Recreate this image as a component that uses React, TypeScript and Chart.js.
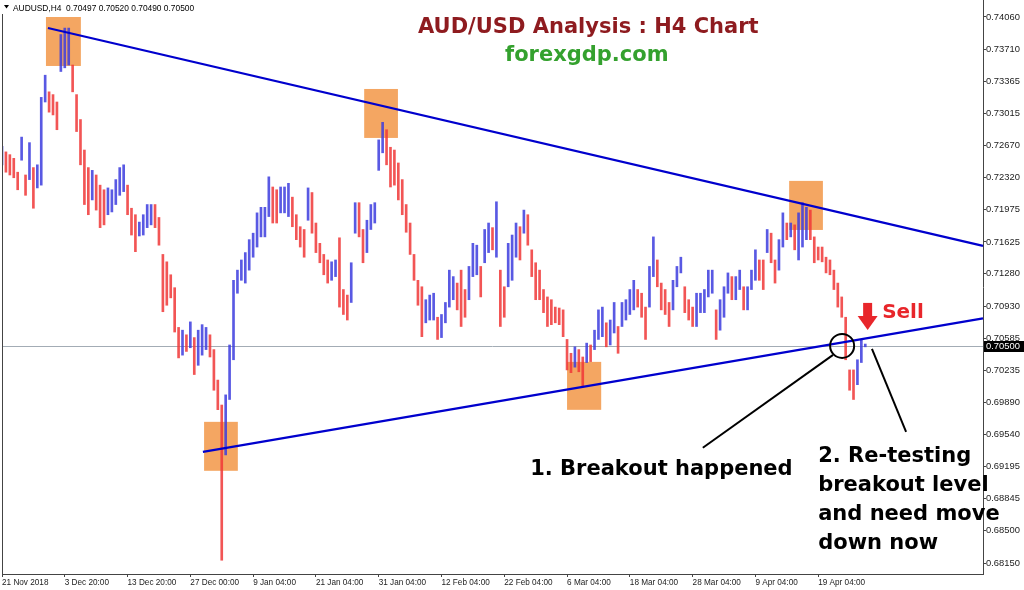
import React, { useEffect, useRef } from 'react';
import { Chart, registerables } from 'chart.js';

Chart.register(...registerables);

// ---------- data ----------
const tickLabels = [
  '21 Nov 2018', '3 Dec 20:00', '13 Dec 20:00', '27 Dec 00:00', '9 Jan 04:00',
  '21 Jan 04:00', '31 Jan 04:00', '12 Feb 04:00', '22 Feb 04:00', '6 Mar 04:00',
  '18 Mar 04:00', '28 Mar 04:00', '9 Apr 04:00', '19 Apr 04:00',
];

const yTicks = [
  0.74060, 0.73710, 0.73365, 0.73015, 0.72670, 0.72320, 0.71975, 0.71625, 0.71280,
  0.70930, 0.70585, 0.70235, 0.69890, 0.69540, 0.69195, 0.68845, 0.68500, 0.68150,
];

const highs = [
  0.7266, 0.7260, 0.7257, 0.7253, 0.7238, 0.7276, 0.7235, 0.7270, 0.7243, 0.7246,
  0.7319, 0.7343, 0.7325, 0.7322, 0.7314, 0.7387, 0.7394, 0.7394, 0.7354, 0.7322,
  0.7295, 0.7262, 0.7243, 0.7240, 0.7235, 0.7224, 0.7219, 0.7221, 0.7219, 0.7230,
  0.7243, 0.7246, 0.7224, 0.7199, 0.7192, 0.7184, 0.7192, 0.7203, 0.7203, 0.7203,
  0.7189, 0.7149, 0.7141, 0.7127, 0.7113, 0.7070, 0.7067, 0.7062, 0.7076, 0.7059,
  0.7067, 0.7073, 0.7070, 0.7062, 0.7046, 0.7013, 0.6986, 0.6997, 0.7051, 0.7121,
  0.7132, 0.7143, 0.7151, 0.7165, 0.7172, 0.7194, 0.7200, 0.7200, 0.7233, 0.7222,
  0.7219, 0.7222, 0.7222, 0.7226, 0.7211, 0.7192, 0.7179, 0.7176, 0.7221, 0.7216,
  0.7183, 0.7161, 0.7149, 0.7143, 0.7141, 0.7143, 0.7167, 0.7111, 0.7105, 0.7140,
  0.7205, 0.7205, 0.7176, 0.7186, 0.7203, 0.7205, 0.7273, 0.7292, 0.7284, 0.7265,
  0.7262, 0.7248, 0.7230, 0.7203, 0.7183, 0.7149, 0.7121, 0.7114, 0.7100, 0.7105,
  0.7107, 0.7081, 0.7084, 0.7097, 0.7132, 0.7125, 0.7118, 0.7132, 0.7111, 0.7136,
  0.7161, 0.7159, 0.7136, 0.7176, 0.7183, 0.7178, 0.7206, 0.7132, 0.7114, 0.7161,
  0.7170, 0.7183, 0.7179, 0.7197, 0.7192, 0.7154, 0.7140, 0.7132, 0.7111, 0.7103,
  0.7100, 0.7092, 0.7091, 0.7089, 0.7057, 0.7042, 0.7049, 0.7046, 0.7038, 0.7053,
  0.7051, 0.7067, 0.7089, 0.7092, 0.7075, 0.7078, 0.7097, 0.7071, 0.7097, 0.7100,
  0.7111, 0.7121, 0.7111, 0.7107, 0.7092, 0.7136, 0.7168, 0.7143, 0.7118, 0.7111,
  0.7097, 0.7121, 0.7136, 0.7146, 0.7114, 0.7100, 0.7092, 0.7107, 0.7107, 0.7111,
  0.7132, 0.7132, 0.7089, 0.7100, 0.7114, 0.7129, 0.7125, 0.7125, 0.7132, 0.7114,
  0.7114, 0.7132, 0.7154, 0.7143, 0.7143, 0.7176, 0.7172, 0.7143, 0.7165, 0.7194,
  0.7183, 0.7183, 0.7181, 0.7194, 0.7205, 0.7200, 0.7197, 0.7168, 0.7157, 0.7157,
  0.7146, 0.7143, 0.7132, 0.7118, 0.7103, 0.7081, 0.7024, 0.7024, 0.7035, 0.7057,
  0.7052,
];

const lows = [
  0.7246, 0.7238, 0.7235, 0.7232, 0.7219, 0.7251, 0.7213, 0.7230, 0.7199, 0.7221,
  0.7224, 0.7314, 0.7303, 0.7300, 0.7284, 0.7347, 0.7351, 0.7354, 0.7325, 0.7282,
  0.7246, 0.7203, 0.7192, 0.7208, 0.7197, 0.7178, 0.7181, 0.7192, 0.7195, 0.7203,
  0.7213, 0.7217, 0.7192, 0.7170, 0.7152, 0.7169, 0.7170, 0.7178, 0.7181, 0.7178,
  0.7159, 0.7087, 0.7094, 0.7102, 0.7065, 0.7037, 0.7040, 0.7044, 0.7048, 0.7019,
  0.7029, 0.7040, 0.7046, 0.7038, 0.7002, 0.6981, 0.6818, 0.6932, 0.6992, 0.7035,
  0.7107, 0.7121, 0.7118, 0.7132, 0.7146, 0.7157, 0.7168, 0.7168, 0.7190, 0.7183,
  0.7183, 0.7194, 0.7194, 0.7190, 0.7179, 0.7165, 0.7157, 0.7146, 0.7186, 0.7172,
  0.7151, 0.7140, 0.7127, 0.7118, 0.7121, 0.7125, 0.7092, 0.7084, 0.7078, 0.7097,
  0.7172, 0.7168, 0.7140, 0.7151, 0.7176, 0.7183, 0.7240, 0.7259, 0.7246, 0.7222,
  0.7224, 0.7208, 0.7192, 0.7173, 0.7149, 0.7121, 0.7094, 0.7060, 0.7075, 0.7078,
  0.7078, 0.7057, 0.7059, 0.7075, 0.7092, 0.7100, 0.7089, 0.7071, 0.7081, 0.7100,
  0.7125, 0.7127, 0.7103, 0.7140, 0.7151, 0.7154, 0.7146, 0.7071, 0.7081, 0.7114,
  0.7121, 0.7146, 0.7143, 0.7172, 0.7159, 0.7125, 0.7100, 0.7100, 0.7086, 0.7071,
  0.7073, 0.7075, 0.7073, 0.7060, 0.7024, 0.7021, 0.7027, 0.7022, 0.7006, 0.7032,
  0.7033, 0.7046, 0.7057, 0.7060, 0.7049, 0.7051, 0.7064, 0.7042, 0.7071, 0.7078,
  0.7084, 0.7089, 0.7092, 0.7081, 0.7057, 0.7092, 0.7125, 0.7114, 0.7089, 0.7084,
  0.7071, 0.7089, 0.7114, 0.7129, 0.7086, 0.7078, 0.7071, 0.7071, 0.7086, 0.7086,
  0.7103, 0.7107, 0.7057, 0.7067, 0.7081, 0.7107, 0.7100, 0.7100, 0.7111, 0.7089,
  0.7089, 0.7111, 0.7121, 0.7121, 0.7111, 0.7151, 0.7140, 0.7118, 0.7132, 0.7157,
  0.7165, 0.7168, 0.7154, 0.7143, 0.7157, 0.7165, 0.7165, 0.7140, 0.7143, 0.7141,
  0.7129, 0.7127, 0.7111, 0.7092, 0.7081, 0.7035, 0.7002, 0.6992, 0.7008, 0.7032,
  0.7049,
];

const headerText = 'AUDUSD,H4  0.70497 0.70520 0.70490 0.70500';
const lastPrice = 0.705;
const titleText = 'AUD/USD Analysis : H4 Chart';
const siteText = 'forexgdp.com';
const breakoutText = '1. Breakout happened';
const retestLines = ['2. Re-testing', 'breakout level', 'and need move', 'down now'];
const sellText = 'Sell';

// axis extents and slot count
const SLOTS = 251;
const TICK_EVERY = 16;
const Y_MIN = 0.68031;
const Y_MAX = 0.74244;

// annotations (in data coordinates: x = bar slot index, y = price)
const trendLines = [
  { x1: 11.7, y1: 0.73941, x2: 250, y2: 0.71582 },
  { x1: 51.2, y1: 0.69353, x2: 250, y2: 0.70798 },
];
const boxes = [
  { x1: 11.2, x2: 20.1, top: 0.7406, bottom: 0.7353 },
  { x1: 92.3, x2: 100.9, top: 0.73281, bottom: 0.72751 },
  { x1: 200.6, x2: 209.2, top: 0.72286, bottom: 0.71755 },
  { x1: 144.0, x2: 152.7, top: 0.70327, bottom: 0.69808 },
  { x1: 51.5, x2: 60.1, top: 0.69678, bottom: 0.69148 },
];
const circleMark = { x: 214.1, y: 0.705 };
const pointers = [
  { x1: 211.8, y1: 0.70403, x2: 178.6, y2: 0.69397 },
  { x1: 221.7, y1: 0.70468, x2: 230.4, y2: 0.6957 },
];
const arrowTip = { x: 220.6, y: 0.70673 };
const sellAnchor = { x: 224.3, y: 0.70857 };
const breakoutAnchor = { x: 134.6, y: 0.69105 };
const retestAnchor = { x: 208.0, y: 0.69245 };

const BAR_UP = 'rgba(60,60,222,0.85)';
const BAR_DOWN = 'rgba(240,55,55,0.85)';
const TREND = 'rgb(0,0,205)';
const BOX = '#f4a662';
const AXIS = '#444444';
const TEXTC = '#222222';

const annotate = {
  id: 'annotate',
  beforeDatasetsDraw(chart: any) {
    const { ctx, chartArea: a } = chart;
    const xs = chart.scales.x, ys = chart.scales.y;
    ctx.save();
    ctx.fillStyle = BOX;
    boxes.forEach((b) => {
      const x1 = xs.getPixelForValue(b.x1), x2 = xs.getPixelForValue(b.x2);
      const y1 = ys.getPixelForValue(b.top), y2 = ys.getPixelForValue(b.bottom);
      ctx.fillRect(x1, y1, x2 - x1, y2 - y1);
    });
    const yb = Math.round(ys.getPixelForValue(lastPrice)) + 0.5;
    ctx.strokeStyle = '#a3acb5';
    ctx.lineWidth = 1;
    ctx.beginPath();
    ctx.moveTo(a.left, yb);
    ctx.lineTo(a.right, yb);
    ctx.stroke();
    ctx.restore();
  },
  afterDatasetsDraw(chart: any) {
    const { ctx } = chart;
    const xs = chart.scales.x, ys = chart.scales.y;
    const px = (v: number) => xs.getPixelForValue(v);
    const py = (v: number) => ys.getPixelForValue(v);
    ctx.save();
    ctx.strokeStyle = TREND;
    ctx.lineWidth = 2.2;
    trendLines.forEach((l) => {
      ctx.beginPath();
      ctx.moveTo(px(l.x1), py(l.y1));
      ctx.lineTo(px(l.x2), py(l.y2));
      ctx.stroke();
    });
    ctx.strokeStyle = '#000';
    ctx.lineWidth = 2;
    ctx.beginPath();
    ctx.arc(px(circleMark.x), py(circleMark.y), 12, 0, Math.PI * 2);
    ctx.stroke();
    pointers.forEach((l) => {
      ctx.beginPath();
      ctx.moveTo(px(l.x1), py(l.y1));
      ctx.lineTo(px(l.x2), py(l.y2));
      ctx.stroke();
    });
    // sell arrow
    const tx = px(arrowTip.x), ty = py(arrowTip.y);
    ctx.fillStyle = '#e8262b';
    ctx.fillRect(tx - 4.5, ty - 27, 9, 14);
    ctx.beginPath();
    ctx.moveTo(tx - 10, ty - 14);
    ctx.lineTo(tx + 10, ty - 14);
    ctx.lineTo(tx, ty);
    ctx.closePath();
    ctx.fill();
    ctx.font = 'bold 20px "DejaVu Sans"';
    ctx.textBaseline = 'middle';
    ctx.textAlign = 'left';
    ctx.fillText(sellText, px(sellAnchor.x), py(sellAnchor.y));
    // annotation texts
    ctx.fillStyle = '#000';
    ctx.font = 'bold 21px "DejaVu Sans"';
    ctx.textBaseline = 'alphabetic';
    ctx.fillText(breakoutText, px(breakoutAnchor.x), py(breakoutAnchor.y));
    const rx = px(retestAnchor.x), ry = py(retestAnchor.y);
    retestLines.forEach((t, i) => ctx.fillText(t, rx, ry + i * 29));
    ctx.restore();
  },
  afterDraw(chart: any) {
    const { ctx, chartArea: a } = chart;
    const ys = chart.scales.y;
    ctx.save();
    // frame left line
    ctx.strokeStyle = AXIS;
    ctx.lineWidth = 1;
    ctx.beginPath();
    ctx.moveTo(a.left + 0.5, 14);
    ctx.lineTo(a.left + 0.5, a.bottom);
    ctx.stroke();
    // header
    ctx.fillStyle = '#000';
    ctx.beginPath();
    ctx.moveTo(4, 5);
    ctx.lineTo(9, 5);
    ctx.lineTo(6.5, 8.5);
    ctx.closePath();
    ctx.fill();
    ctx.font = '8.4px "Liberation Sans"';
    ctx.textBaseline = 'alphabetic';
    ctx.textAlign = 'left';
    ctx.fillText(headerText, 13, 10.5);
    // title
    ctx.font = 'bold 21px "DejaVu Sans"';
    ctx.fillStyle = '#8e1b1f';
    ctx.fillText(titleText, 418, 33);
    ctx.fillStyle = '#34a12e';
    ctx.fillText(siteText, 505, 61);
    // current price box
    const yb = Math.round(ys.getPixelForValue(lastPrice));
    ctx.fillStyle = '#000';
    ctx.fillRect(a.right + 1, yb - 5, 1024 - a.right - 1, 11);
    ctx.fillStyle = '#fff';
    ctx.font = '9.4px "Liberation Sans"';
    ctx.textBaseline = 'middle';
    ctx.fillText(lastPrice.toFixed(5), a.right + 3, yb + 0.5);
    ctx.restore();
  },
};

export default function App() {
  const ref = useRef<HTMLCanvasElement>(null);
  useEffect(() => {
    if (!ref.current) return;
    const labels = Array.from({ length: SLOTS }, (_, i) =>
      i % TICK_EVERY === 0 && tickLabels[i / TICK_EVERY] ? tickLabels[i / TICK_EVERY] : ''
    );
    const data = labels.map((_, i) => (i < highs.length ? [lows[i], highs[i]] : null));
    const colors = labels.map((_, i) => {
      if (i >= highs.length) return BAR_UP;
      const mid = (highs[i] + lows[i]) / 2;
      const prev = i > 0 ? (highs[i - 1] + lows[i - 1]) / 2 : mid;
      return mid >= prev ? BAR_UP : BAR_DOWN;
    });
    const chart = new Chart(ref.current, {
      type: 'bar',
      data: {
        labels,
        datasets: [
          {
            data: data as any,
            backgroundColor: colors,
            barThickness: 2,
            borderWidth: 0,
            borderSkipped: false,
            grouped: false,
          } as any,
        ],
      },
      options: {
        responsive: false,
        animation: false,
        devicePixelRatio: 1,
        layout: { padding: { left: 2, right: 0, top: 0, bottom: 0 } },
        plugins: { legend: { display: false }, tooltip: { enabled: false }, title: { display: false } },
        scales: {
          x: {
            type: 'category',
            offset: false,
            grid: { display: true, drawOnChartArea: false, drawTicks: true, tickLength: 3, offset: false, color: AXIS },
            border: { display: true, color: AXIS, width: 1 },
            ticks: {
              autoSkip: false,
              maxRotation: 0,
              minRotation: 0,
              align: 'start',
              padding: 1,
              color: TEXTC,
              font: { family: 'Liberation Sans', size: 8.2 },
            },
            afterBuildTicks: (axis: any) => {
              axis.ticks = axis.ticks.filter(
                (t: any) => t.value % TICK_EVERY === 0 && tickLabels[t.value / TICK_EVERY]
              );
            },
            afterFit: (axis: any) => {
              axis.height = 16;
              axis.paddingLeft = 0;
              axis.paddingRight = 0;
            },
          },
          y: {
            type: 'linear',
            position: 'right',
            min: Y_MIN,
            max: Y_MAX,
            grid: { display: true, drawOnChartArea: false, drawTicks: true, tickLength: 3, color: AXIS },
            border: { display: true, color: AXIS, width: 1 },
            ticks: {
              padding: 0,
              color: TEXTC,
              font: { family: 'Liberation Sans', size: 9.4 },
              callback: (v: any) => Number(v).toFixed(5),
            },
            afterBuildTicks: (axis: any) => {
              axis.ticks = yTicks.map((v) => ({ value: v }));
            },
            afterFit: (axis: any) => {
              axis.width = 41;
              axis.paddingTop = 0;
              axis.paddingBottom = 0;
            },
          },
        },
      } as any,
      plugins: [annotate],
    });
    return () => chart.destroy();
  }, []);
  return (
    <div style={{ position: 'fixed', left: 0, top: 0, width: 1024, height: 590, background: '#fff' }}>
      <canvas ref={ref} width={1024} height={590} style={{ display: 'block' }} />
    </div>
  );
}
